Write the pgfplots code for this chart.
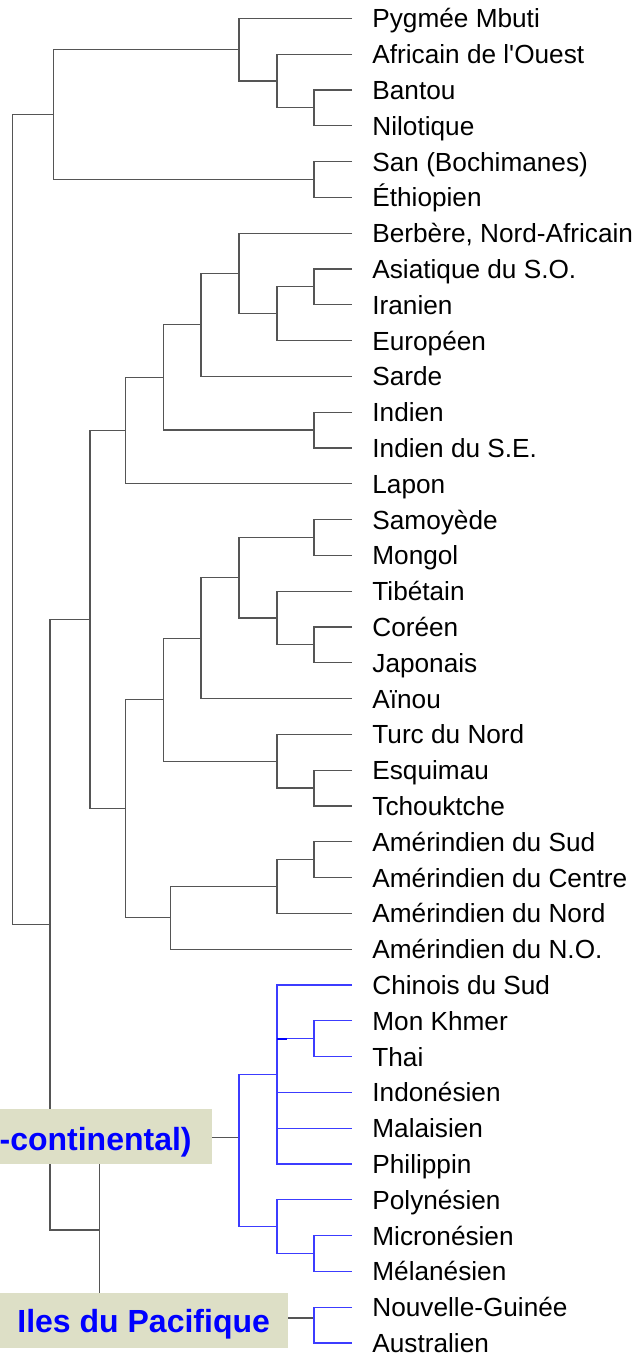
\documentclass[border=0pt]{standalone}
\usepackage{pgfplots}
\pgfplotsset{compat=1.18}
\usepackage{fontspec}
\setmainfont{Liberation Sans}
\definecolor{treegray}{RGB}{85,85,85}
\definecolor{treeblue}{RGB}{60,60,255}
\definecolor{boxfill}{RGB}{221,223,198}
\definecolor{labblue}{RGB}{0,0,255}
\tikzset{lab/.style={anchor=base west, inner sep=0pt, font=\fontsize{13.1}{15}\selectfont}}
\begin{document}
\begin{tikzpicture}
\begin{axis}[name=ax, scale only axis, width=319.5pt, height=678pt,
  xmin=0, xmax=639, ymin=0, ymax=1356, y dir=reverse, hide axis, clip=false,
  br/.style={color=treegray, line width=0.6pt, mark=none, line join=miter},
  bb/.style={color=treeblue, line width=0.6pt, mark=none, line join=miter}]
% ---- Africa
\addplot[br] coordinates {(352,89.9) (314,89.9) (314,125.7) (352,125.7)};
\addplot[br] coordinates {(352,54.1) (277,54.1) (277,107.8) (314,107.8)};
\addplot[br] coordinates {(352,18.3) (239,18.3) (239,80.95) (277,80.95)};
\addplot[br] coordinates {(352,161.5) (314,161.5) (314,197.3) (352,197.3)};
\addplot[br] coordinates {(239,49.6) (53.3,49.6) (53.3,179.4) (314,179.4)};
% ---- West Eurasia
\addplot[br] coordinates {(352,268.9) (314,268.9) (314,304.7) (352,304.7)};
\addplot[br] coordinates {(314,286.8) (277,286.8) (277,340.5) (352,340.5)};
\addplot[br] coordinates {(352,233.1) (239,233.1) (239,313.65) (277,313.65)};
\addplot[br] coordinates {(239,273.4) (201,273.4) (201,376.3) (352,376.3)};
\addplot[br] coordinates {(352,412.1) (314,412.1) (314,447.9) (352,447.9)};
\addplot[br] coordinates {(201,324.85) (163.3,324.85) (163.3,430) (314,430)};
\addplot[br] coordinates {(163.3,377.4) (125.7,377.4) (125.7,483.7) (352,483.7)};
% ---- East Asia
\addplot[br] coordinates {(352,519.5) (314,519.5) (314,555.3) (352,555.3)};
\addplot[br] coordinates {(352,626.9) (314,626.9) (314,662.7) (352,662.7)};
\addplot[br] coordinates {(352,591.1) (277,591.1) (277,644.8) (314,644.8)};
\addplot[br] coordinates {(314,537.4) (239,537.4) (239,617.95) (277,617.95)};
\addplot[br] coordinates {(239,577.7) (201,577.7) (201,698.5) (352,698.5)};
\addplot[br] coordinates {(352,770.1) (314,770.1) (314,805.9) (352,805.9)};
\addplot[br] coordinates {(352,734.3) (277,734.3) (277,788) (314,788)};
\addplot[br] coordinates {(201,638.1) (163.3,638.1) (163.3,761.15) (277,761.15)};
% ---- Americas
\addplot[br] coordinates {(352,841.7) (314,841.7) (314,877.5) (352,877.5)};
\addplot[br] coordinates {(314,859.6) (277,859.6) (277,913.3) (352,913.3)};
\addplot[br] coordinates {(277,886.45) (170.7,886.45) (170.7,949.1) (352,949.1)};
\addplot[br] coordinates {(163.3,699.6) (125.7,699.6) (125.7,917.8) (170.7,917.8)};
\addplot[br] coordinates {(125.7,430.55) (90,430.55) (90,808.7) (125.7,808.7)};
% ---- Pacific, L1, root
\addplot[br] coordinates {(239,1137.7) (99.3,1137.7) (99.3,1318) (314,1318)};
\addplot[br] coordinates {(90,619.6) (50,619.6) (50,1230) (99.3,1230)};
\addplot[br] coordinates {(53.3,114.5) (12.3,114.5) (12.3,924.8) (50,924.8)};
% ---- blue subtree
\addplot[bb] coordinates {(352,1020.7) (314,1020.7) (314,1056.5) (352,1056.5)};
\addplot[bb] coordinates {(352,984.9) (277,984.9) (277,1163.9) (352,1163.9)};
\addplot[bb] coordinates {(277,1092.3) (352,1092.3)};
\addplot[bb] coordinates {(277,1128.1) (352,1128.1)};
\addplot[bb] coordinates {(277,1038.6) (314,1038.6)};
\addplot[color=blue, line width=1.1pt, mark=none] coordinates {(277,1038.6) (287,1038.6)};
\addplot[bb] coordinates {(352,1235.5) (314,1235.5) (314,1271.3) (352,1271.3)};
\addplot[bb] coordinates {(352,1199.7) (277,1199.7) (277,1253.4) (314,1253.4)};
\addplot[bb] coordinates {(277,1074.4) (239,1074.4) (239,1226.55) (277,1226.55)};
\addplot[bb] coordinates {(352,1307.1) (314,1307.1) (314,1342.9) (352,1342.9)};
% ---- label boxes
\fill[boxfill] (axis cs:0,1109) rectangle (axis cs:212,1164);
\fill[boxfill] (axis cs:0,1293) rectangle (axis cs:288,1348);
\node[anchor=base east, inner sep=0pt, text=labblue, font=\fontsize{16}{19}\selectfont\bfseries] at (axis cs:192,1150) {-continental)};
\node[anchor=base west, inner sep=0pt, text=labblue, font=\fontsize{16}{19}\selectfont\bfseries] at (axis cs:17,1332) {Iles du Pacifique};
% ---- leaf labels
\node[lab] at (axis cs:372,27.8) {Pygmée Mbuti};
\node[lab] at (axis cs:372,63.6) {Africain de l\textquotesingle Ouest};
\node[lab] at (axis cs:372,99.4) {Bantou};
\node[lab] at (axis cs:372,135.2) {Nilotique};
\node[lab] at (axis cs:372,171.0) {San (Bochimanes)};
\node[lab] at (axis cs:372,206.8) {Éthiopien};
\node[lab] at (axis cs:372,242.6) {Berbère, Nord-Africain};
\node[lab] at (axis cs:372,278.4) {Asiatique du S.O.};
\node[lab] at (axis cs:372,314.2) {Iranien};
\node[lab] at (axis cs:372,350.0) {Européen};
\node[lab] at (axis cs:372,385.8) {Sarde};
\node[lab] at (axis cs:372,421.6) {Indien};
\node[lab] at (axis cs:372,457.4) {Indien du S.E.};
\node[lab] at (axis cs:372,493.2) {Lapon};
\node[lab] at (axis cs:372,529.0) {Samoyède};
\node[lab] at (axis cs:372,564.8) {Mongol};
\node[lab] at (axis cs:372,600.6) {Tibétain};
\node[lab] at (axis cs:372,636.4) {Coréen};
\node[lab] at (axis cs:372,672.2) {Japonais};
\node[lab] at (axis cs:372,708.0) {Aïnou};
\node[lab] at (axis cs:372,743.8) {Turc du Nord};
\node[lab] at (axis cs:372,779.6) {Esquimau};
\node[lab] at (axis cs:372,815.4) {Tchouktche};
\node[lab] at (axis cs:372,851.2) {Amérindien du Sud};
\node[lab] at (axis cs:372,887.0) {Amérindien du Centre};
\node[lab] at (axis cs:372,922.8) {Amérindien du Nord};
\node[lab] at (axis cs:372,958.6) {Amérindien du N.O.};
\node[lab] at (axis cs:372,994.4) {Chinois du Sud};
\node[lab] at (axis cs:372,1030.2) {Mon Khmer};
\node[lab] at (axis cs:372,1066.0) {Thai};
\node[lab] at (axis cs:372,1101.8) {Indonésien};
\node[lab] at (axis cs:372,1137.6) {Malaisien};
\node[lab] at (axis cs:372,1173.4) {Philippin};
\node[lab] at (axis cs:372,1209.2) {Polynésien};
\node[lab] at (axis cs:372,1245.0) {Micronésien};
\node[lab] at (axis cs:372,1280.8) {Mélanésien};
\node[lab] at (axis cs:372,1316.6) {Nouvelle-Guinée};
\node[lab] at (axis cs:372,1352.4) {Australien};
\end{axis}
\pgfresetboundingbox
\path[use as bounding box] (ax.south west) rectangle (ax.north east);
\end{tikzpicture}
\end{document}
